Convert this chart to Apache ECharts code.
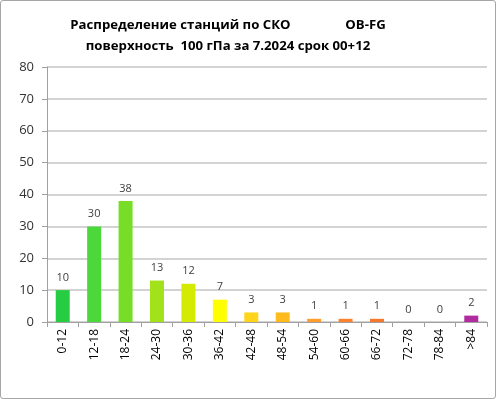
<!DOCTYPE html>
<html>
<head>
<meta charset="utf-8">
<script src="https://cdn.jsdelivr.net/npm/echarts@6/dist/echarts.min.js"></script>
<style>
  html, body { margin: 0; padding: 0; background: #fff; }
  #chart { width: 496px; height: 399px; box-sizing: border-box; border: 1px solid #a6a6a6; border-radius: 3px; }
</style>
</head>
<body>
<div id="chart"></div>
<script>
// диапазоны СКО
var categories = ['0-12', '12-18', '18-24', '24-30', '30-36', '36-42', '42-48', '48-54',
                  '54-60', '60-66', '66-72', '72-78', '78-84', '>84'];
// число станций
var counts = [10, 30, 38, 13, 12, 7, 3, 3, 1, 1, 1, 0, 0, 2];
var barColors = ['#26cc42', '#4cd83a', '#77dd26', '#a2e21a', '#d4ea00', '#ffff00', '#ffd41a',
                 '#ffbb1e', '#ff9e2c', '#ff812e', '#f7782c', '#f07030', '#f07030', '#b02aa0'];
var yTicks = [0, 10, 20, 30, 40, 50, 60, 70, 80];

var chart = echarts.init(document.getElementById('chart'));
chart.setOption({
  animation: false,
  title: {
    text: 'Распределение станций по СКО                OB-FG\nповерхность  100 гПа за 7.2024 срок 00+12',
    left: 222,
    top: 9,
    textAlign: 'center',
    textStyle: {
      fontFamily: 'Open Sans',
      fontSize: 13.2,
      fontWeight: 'bold',
      color: '#000',
      lineHeight: 21
    }
  },
  grid: { left: 46, right: 8, top: 66, bottom: 76 },
  xAxis: {
    type: 'category',
    data: categories,
    axisLine: { lineStyle: { color: '#a0a0a0', width: 1 } },
    axisTick: { show: true, alignWithLabel: false, length: 5, lineStyle: { color: '#a0a0a0' } },
    axisLabel: { rotate: 90, color: '#000', fontFamily: 'Open Sans', fontSize: 12, margin: 7 }
  },
  yAxis: {
    type: 'value',
    min: yTicks[0],
    max: yTicks[yTicks.length - 1],
    interval: 10,
    axisLine: { show: true, lineStyle: { color: '#a0a0a0' } },
    axisTick: { show: true, length: 5, lineStyle: { color: '#a0a0a0' } },
    axisLabel: { color: '#333', fontFamily: 'Open Sans', fontSize: 13, margin: 13 },
    splitLine: { lineStyle: { color: '#c4c4c4', width: 1.5 } }
  },
  series: [{
    type: 'bar',
    barWidth: 14,
    data: counts.map(function (v, i) {
      return { value: v, itemStyle: { color: barColors[i] } };
    }),
    label: {
      show: true,
      position: 'top',
      distance: 7,
      color: '#404040',
      fontFamily: 'Open Sans',
      fontSize: 11
    }
  }]
});
</script>
</body>
</html>
